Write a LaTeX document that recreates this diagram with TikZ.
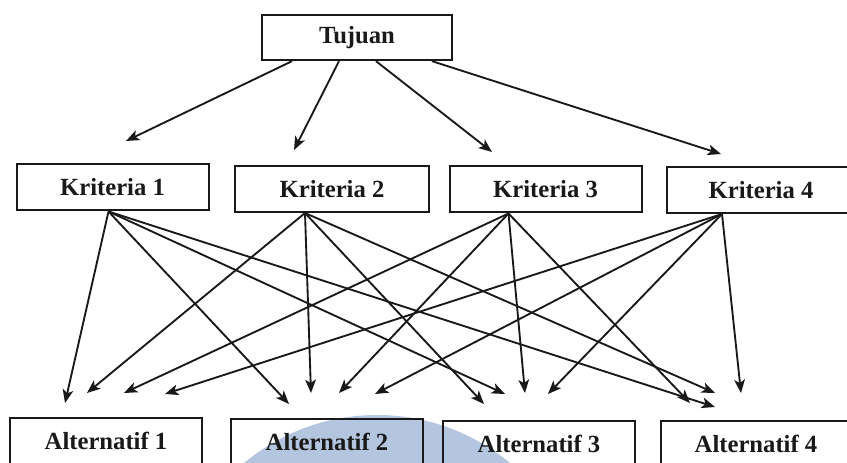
\documentclass[tikz,border=0pt]{standalone}
\usepackage{fontspec}
\setmainfont{Liberation Serif}
\usetikzlibrary{arrows.meta,calc}
\definecolor{ink}{RGB}{25,25,25}
\definecolor{wm}{RGB}{180,197,223}
\begin{document}
\begin{tikzpicture}[x=0.75pt,y=-0.75pt,
  box/.style={draw=ink, line width=1.5pt, minimum width=144pt, minimum height=34.5pt,
    inner sep=0pt, text=ink, font=\fontsize{18.5}{20}\selectfont\bfseries},
  arr/.style={draw=ink, line width=1.4pt, -{Stealth[length=10pt,width=8pt,inset=2.5pt]}}]
\useasboundingbox (0,0) rectangle (847,463);
\clip (0,0) rectangle (847,463);
\fill[white] (0,0) rectangle (847,463);
% watermark
\fill[wm] (377,623) circle (208);
% nodes
\node[box, minimum width=142.5pt, minimum height=34pt] (T) at (357,37.5) {Tujuan};
\node[box] (K1) at (112.5,187.5) {Kriteria 1};
\node[box, minimum width=145.5pt] (K2) at (332,189) {Kriteria 2};
\node[box] (K3) at (545.5,189.5) {Kriteria 3};
\node[box, minimum width=141pt] (K4) at (761,190) {Kriteria 4};
\node[box, minimum height=35pt] (A1) at (106,441) {Alternatif 1};
\node[box, minimum height=35pt] (A2) at (327,442) {Alternatif 2};
\node[box, minimum height=35pt] (A3) at (539,444) {Alternatif 3};
\node[box, minimum height=35pt, minimum width=142.5pt] (A4) at (756,444) {Alternatif 4};
% arrow tips (free ends)
\coordinate (t1) at (126,141);
\coordinate (t2) at (294,150);
\coordinate (t3) at (492,152);
\coordinate (t4) at (721,154);
\coordinate (a11) at (65,403);  \coordinate (a12) at (87,393);
\coordinate (a13) at (124,393); \coordinate (a14) at (165,394);
\coordinate (a21) at (289,404); \coordinate (a22) at (311,393);
\coordinate (a23) at (339,393); \coordinate (a24) at (375,394);
\coordinate (a32) at (484,404); \coordinate (a31) at (505,394);
\coordinate (a33) at (525,393); \coordinate (a34) at (548,394);
\coordinate (a43) at (690,403); \coordinate (a42) at (715,393);
\coordinate (a41) at (715,407); \coordinate (a44) at (741,393);
% sources
\coordinate (k1o) at ($(K1.south)+(-4,0)$);
\coordinate (k2o) at ($(K2.south)+(-27,0)$);
\coordinate (k3o) at ($(K3.south)+(-37,0)$);
\coordinate (k4o) at ($(K4.south)+(-39,0)$);
% goal to criteria
\draw[arr] ($(T.south)+(-65,0)$) -- (t1);
\draw[arr] ($(T.south)+(-18,0)$) -- (t2);
\draw[arr] ($(T.south)+(19,0)$) -- (t3);
\draw[arr] ($(T.south)+(75,0)$) -- (t4);
% criteria to alternatives
\foreach \k in {1,2,3,4}{
  \foreach \a in {1,2,3,4}{
    \draw[arr] (k\k o) -- (a\a\k);
  }
}
\end{tikzpicture}
\end{document}
